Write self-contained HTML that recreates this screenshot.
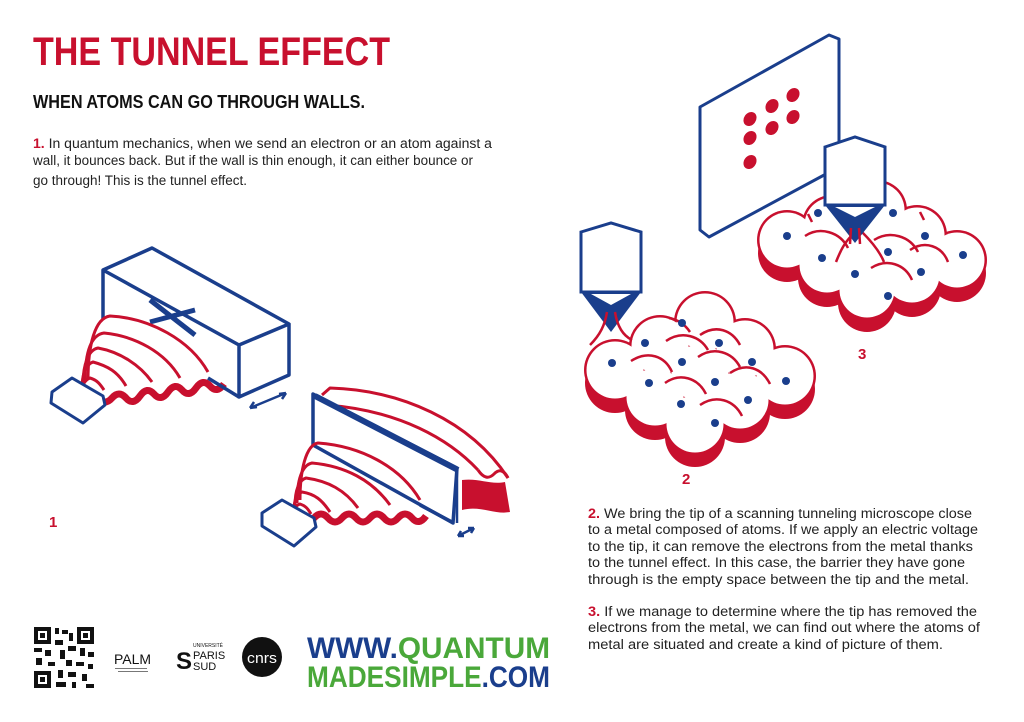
<!DOCTYPE html>
<html><head><meta charset="utf-8"><style>
html,body{margin:0;padding:0;background:#fff;}
svg{display:block;}
text{font-family:"Liberation Sans",sans-serif;}
</style></head><body>
<svg width="1024" height="722" viewBox="0 0 1024 722" xmlns="http://www.w3.org/2000/svg">
<rect width="1024" height="722" fill="#fff"/>
<text x="33" y="65" font-size="40" font-weight="bold" fill="#c8102e" textLength="357" lengthAdjust="spacingAndGlyphs">THE TUNNEL EFFECT</text>
<text x="33" y="108" font-size="18" font-weight="bold" fill="#111" textLength="332" lengthAdjust="spacingAndGlyphs">WHEN ATOMS CAN GO THROUGH WALLS.</text>
<g font-size="13.5" fill="#222">
<text x="33" y="148" textLength="459" lengthAdjust="spacingAndGlyphs"><tspan fill="#c8102e" font-weight="bold">1.</tspan> In quantum mechanics, when we send an electron or an atom against a</text>
<text x="33" y="165" textLength="440" lengthAdjust="spacingAndGlyphs">wall, it bounces back. But if the wall is thin enough, it can either bounce or</text>
<text x="33" y="185" textLength="214" lengthAdjust="spacingAndGlyphs">go through! This is the tunnel effect.</text>
</g>
<g font-size="13.5" fill="#222">
<text x="588" y="518" textLength="384" lengthAdjust="spacingAndGlyphs"><tspan fill="#c8102e" font-weight="bold">2.</tspan> We bring the tip of a scanning tunneling microscope close</text>
<text x="588" y="534" textLength="390" lengthAdjust="spacingAndGlyphs">to a metal composed of atoms. If we apply an electric voltage</text>
<text x="588" y="551" textLength="385" lengthAdjust="spacingAndGlyphs">to the tip, it can remove the electrons from the metal thanks</text>
<text x="588" y="567" textLength="377" lengthAdjust="spacingAndGlyphs">to the tunnel effect. In this case, the barrier they have gone</text>
<text x="588" y="584" textLength="381" lengthAdjust="spacingAndGlyphs">through is the empty space between the tip and the metal.</text>
<text x="588" y="616" textLength="389" lengthAdjust="spacingAndGlyphs"><tspan fill="#c8102e" font-weight="bold">3.</tspan> If we manage to determine where the tip has removed the</text>
<text x="588" y="632" textLength="392" lengthAdjust="spacingAndGlyphs">electrons from the metal, we can find out where the atoms of</text>
<text x="588" y="649" textLength="355" lengthAdjust="spacingAndGlyphs">metal are situated and create a kind of picture of them.</text>
</g>
<g font-size="15" font-weight="bold" fill="#c8102e">
<text x="49" y="527">1</text><text x="682" y="484">2</text><text x="858" y="359">3</text>
</g>

<g fill="none" stroke-linejoin="round">
<path d="M103,319 L103,270 L152,248 L289,324 L239,345 L103,270 M239,345 L239,397 L289,375 L289,324" stroke="#1a3e8c" stroke-width="3.5" fill="#fff"/>
<path d="M150,300 L195,335 M150,322 L195,310" stroke="#1a3e8c" stroke-width="5"/>
<g stroke="#c8102e" stroke-width="3">
<path d="M88,380 C88,345 95,318 110,316 C150,318 190,340 208,372"/>
<path d="M85,382 C85,355 90,335 104,333 C135,336 165,352 180,378"/>
<path d="M83,385 C83,365 88,350 98,348 C120,352 140,365 152,382"/>
<path d="M82,388 C82,375 86,364 93,362 C108,366 118,372 126,386"/>
<path d="M82,392 C82,385 85,380 90,378 C97,380 100,384 104,390"/>
</g>
<path d="M98,398 q7,8 14,0 t14,0 t14,-2 t14,-2 t14,-2 t14,-2 t14,-2 t14,-2 t14,-2" stroke="#c8102e" stroke-width="7"/>
<path d="M208,378 L239,397" stroke="#1a3e8c" stroke-width="3.5"/>
<path d="M52,392 L72,378 L103,396 L105,405 L83,423 L51,403 Z" stroke="#1a3e8c" stroke-width="3" fill="#fff"/>
<path d="M250,408 L286,393 M250,408 l7,-1 m-7,1 l4,-6 M286,393 l-7,1 m7,-1 l-4,6" stroke="#1a3e8c" stroke-width="2.5"/>
</g>

<g fill="none" stroke-linejoin="round">
<g stroke="#c8102e" stroke-width="3">
<path d="M322,395 L330,388 C400,390 470,420 508,478"/>
<path d="M325,405 C400,410 450,440 478,470"/>
<path d="M478,470 q8,12 16,4 q8,-8 14,4"/>
</g>
<path d="M462,480 C480,478 490,485 505,482 L510,512 C495,515 480,505 462,510 Z" fill="#c8102e"/>
<path d="M313,445 L313,394 L457,468 L453,523 L313,445" stroke="#1a3e8c" stroke-width="3.5" fill="#fff"/>
<path d="M315,396 L458,470" stroke="#1a3e8c" stroke-width="6"/>
<path d="M457,468 L457,523" stroke="#1a3e8c" stroke-width="2.5"/>
<g stroke="#c8102e" stroke-width="3">
<path d="M300,500 C300,470 306,445 318,443 C360,446 400,466 420,500"/>
<path d="M297,503 C297,480 302,465 312,463 C345,466 372,480 390,505"/>
<path d="M295,506 C295,490 299,480 306,478 C328,481 345,490 358,508"/>
<path d="M294,510 C294,500 297,494 302,492 C315,494 322,500 330,512"/>
<path d="M294,514 C294,508 296,505 300,504 C306,506 308,509 311,514"/>
</g>
<path d="M300,518 q7,8 14,0 t14,0 t14,0 t14,0 t14,0 t14,0 t14,0 t14,0 t14,-2" stroke="#c8102e" stroke-width="7"/>
<path d="M420,505 L452,522" stroke="#1a3e8c" stroke-width="3.5"/>
<path d="M262,513 L282,500 L314,518 L316,527 L294,546 L262,526 Z" stroke="#1a3e8c" stroke-width="3" fill="#fff"/>
<path d="M458,536 L474,528 M458,536 l6,0 m-6,0 l3,-5 M474,528 l-6,0 m6,0 l-3,5" stroke="#1a3e8c" stroke-width="2.5"/>
</g>

<!-- Screen -->
<path d="M700,107 L829,35 L839,39 L839,167 L709,237 L700,230 Z" fill="#fff" stroke="#1a3e8c" stroke-width="3" stroke-linejoin="round"/>
<g fill="#c8102e">
<ellipse cx="750" cy="119" rx="6" ry="7.5" transform="rotate(35 750 119)"/>
<ellipse cx="772" cy="106" rx="6" ry="7.5" transform="rotate(35 772 106)"/>
<ellipse cx="793" cy="95" rx="6" ry="7.5" transform="rotate(35 793 95)"/>
<ellipse cx="793" cy="117" rx="6" ry="7.5" transform="rotate(35 793 117)"/>
<ellipse cx="772" cy="128" rx="6" ry="7.5" transform="rotate(35 772 128)"/>
<ellipse cx="750" cy="138" rx="6" ry="7.5" transform="rotate(35 750 138)"/>
<ellipse cx="750" cy="162" rx="6" ry="7.5" transform="rotate(35 750 162)"/>
</g>

<g>
<g fill="#c8102e" transform="translate(0,13)">
<circle cx="787" cy="240" r="29"/><circle cx="832" cy="225" r="29"/><circle cx="877" cy="210" r="29"/>
<circle cx="827" cy="265" r="29"/><circle cx="872" cy="250" r="29"/><circle cx="917" cy="235" r="29"/>
<circle cx="867" cy="290" r="29"/><circle cx="912" cy="275" r="29"/><circle cx="957" cy="260" r="29"/>
</g>
<g fill="#c8102e">
<circle cx="787" cy="240" r="30"/><circle cx="832" cy="225" r="30"/><circle cx="877" cy="210" r="30"/>
<circle cx="827" cy="265" r="30"/><circle cx="872" cy="250" r="30"/><circle cx="917" cy="235" r="30"/>
<circle cx="867" cy="290" r="30"/><circle cx="912" cy="275" r="30"/><circle cx="957" cy="260" r="30"/>
</g>
<g fill="#fff">
<circle cx="787" cy="240" r="27.5"/><circle cx="832" cy="225" r="27.5"/><circle cx="877" cy="210" r="27.5"/>
<circle cx="827" cy="265" r="27.5"/><circle cx="872" cy="250" r="27.5"/><circle cx="917" cy="235" r="27.5"/>
<circle cx="867" cy="290" r="27.5"/><circle cx="912" cy="275" r="27.5"/><circle cx="957" cy="260" r="27.5"/>
</g>
<g fill="none" stroke="#c8102e" stroke-width="2.5">
<path d="M805,236 C820,226 840,232 848,248"/><path d="M874,240 C890,230 910,236 918,252"/>
<path d="M910,250 C925,240 942,246 948,262"/><path d="M871,268 C887,258 905,264 912,280"/>
<path d="M808,214 L812,222"/><path d="M920,212 L924,220"/>
<path d="M856,232 C845,240 840,252 836,262"/><path d="M862,232 C872,242 880,252 884,262"/>
</g>
<g fill="#1a3e8c">
<circle cx="787" cy="236" r="4"/><circle cx="818" cy="213" r="4"/><circle cx="893" cy="213" r="4"/>
<circle cx="822" cy="258" r="4"/><circle cx="888" cy="252" r="4"/><circle cx="925" cy="236" r="4"/>
<circle cx="855" cy="274" r="4"/><circle cx="921" cy="272" r="4"/><circle cx="963" cy="255" r="4"/>
<circle cx="888" cy="296" r="4"/>
</g>
</g>
<path d="M825,147 L855,137 L885,147 L885,205 L825,205 Z" fill="#fff" stroke="#1a3e8c" stroke-width="3"/>
<path d="M825,205 L885,205 L855,243 Z" fill="#1a3e8c"/>
<path d="M835,207 L855,217 L875,207 Z" fill="#fff"/>
<path d="M851,228 L850,244 M859,228 L860,244" stroke="#c8102e" stroke-width="2.5"/>

<g>
<g fill="#c8102e" transform="translate(0,13)">
<circle cx="615" cy="370" r="30"/><circle cx="660" cy="346" r="30"/><circle cx="705" cy="322" r="30"/>
<circle cx="655" cy="397" r="30"/><circle cx="700" cy="373" r="30"/><circle cx="745" cy="349" r="30"/>
<circle cx="695" cy="424" r="30"/><circle cx="740" cy="400" r="30"/><circle cx="785" cy="376" r="30"/>
</g>
<g fill="#c8102e">
<circle cx="615" cy="370" r="31"/><circle cx="660" cy="346" r="31"/><circle cx="705" cy="322" r="31"/>
<circle cx="655" cy="397" r="31"/><circle cx="700" cy="373" r="31"/><circle cx="745" cy="349" r="31"/>
<circle cx="695" cy="424" r="31"/><circle cx="740" cy="400" r="31"/><circle cx="785" cy="376" r="31"/>
</g>
<g fill="#fff">
<circle cx="615" cy="370" r="28.5"/><circle cx="660" cy="346" r="28.5"/><circle cx="705" cy="322" r="28.5"/>
<circle cx="655" cy="397" r="28.5"/><circle cx="700" cy="373" r="28.5"/><circle cx="745" cy="349" r="28.5"/>
<circle cx="695" cy="424" r="28.5"/><circle cx="740" cy="400" r="28.5"/><circle cx="785" cy="376" r="28.5"/>
</g>
<g fill="none" stroke="#c8102e" stroke-width="2.5">
<path d="M631,361 C648,350 665,356 672,372"/><path d="M666,341 C682,330 700,336 708,350"/>
<path d="M700,335 C716,324 732,330 740,345"/><path d="M665,383 C680,372 698,378 706,394"/>
<path d="M698,357 C714,346 732,352 740,367"/><path d="M730,373 C746,362 762,368 770,384"/>
<path d="M700,405 C716,394 734,400 742,416"/>
<path d="M669,318 C680,320 686,326 690,332"/>
</g>
<g fill="#1a3e8c">
<circle cx="612" cy="363" r="4"/><circle cx="645" cy="343" r="4"/><circle cx="682" cy="323" r="4"/>
<circle cx="649" cy="383" r="4"/><circle cx="682" cy="362" r="4"/><circle cx="719" cy="343" r="4"/>
<circle cx="681" cy="404" r="4"/><circle cx="715" cy="382" r="4"/><circle cx="752" cy="362" r="4"/>
<circle cx="748" cy="400" r="4"/><circle cx="786" cy="381" r="4"/><circle cx="715" cy="423" r="4"/>
</g>
</g>
<path d="M581,232 L611,223 L641,232 L641,292 L581,292 Z" fill="#fff" stroke="#1a3e8c" stroke-width="3"/>
<path d="M581,292 L641,292 L611,332 Z" fill="#1a3e8c"/>
<path d="M591,294 L611,305 L631,294 Z" fill="#fff"/>
<path d="M607,312 C605,325 600,335 590,345 M615,312 C617,325 622,335 632,340" fill="none" stroke="#c8102e" stroke-width="2.5"/>

<g fill="#111">
<rect x="34" y="627" width="60" height="61" fill="#fff"/>
<rect x="34" y="627" width="17" height="17"/><rect x="38" y="631" width="9" height="9" fill="#fff"/><rect x="40" y="633" width="5" height="5"/>
<rect x="77" y="627" width="17" height="17"/><rect x="81" y="631" width="9" height="9" fill="#fff"/><rect x="83" y="633" width="5" height="5"/>
<rect x="34" y="671" width="17" height="17"/><rect x="38" y="675" width="9" height="9" fill="#fff"/><rect x="40" y="677" width="5" height="5"/>
<rect x="55" y="628" width="4" height="6"/><rect x="62" y="630" width="6" height="4"/><rect x="69" y="633" width="4" height="8"/>
<rect x="34" y="648" width="8" height="4"/><rect x="45" y="650" width="6" height="6"/><rect x="55" y="640" width="8" height="5"/>
<rect x="60" y="650" width="5" height="9"/><rect x="68" y="646" width="8" height="5"/><rect x="80" y="648" width="5" height="8"/>
<rect x="88" y="652" width="6" height="5"/><rect x="36" y="658" width="6" height="7"/><rect x="48" y="662" width="7" height="4"/>
<rect x="66" y="660" width="6" height="6"/><rect x="76" y="662" width="8" height="4"/><rect x="58" y="670" width="5" height="8"/>
<rect x="68" y="672" width="8" height="5"/><rect x="82" y="674" width="5" height="7"/><rect x="56" y="682" width="10" height="5"/>
<rect x="72" y="682" width="4" height="6"/><rect x="86" y="684" width="8" height="4"/><rect x="88" y="664" width="5" height="5"/>
</g>
<text x="114" y="664" font-size="14" fill="#111" textLength="37" lengthAdjust="spacingAndGlyphs">PALM</text>
<rect x="115" y="668" width="32" height="1" fill="#777"/><rect x="118" y="671" width="30" height="1" fill="#777"/>
<text x="176" y="669" font-size="24" font-weight="bold" fill="#111">S</text>
<text x="193" y="647" font-size="5" fill="#111">UNIVERSITÉ</text>
<text x="193" y="659" font-size="11" fill="#111">PARIS</text>
<text x="193" y="670" font-size="11" fill="#111">SUD</text>
<circle cx="262" cy="657" r="20" fill="#111"/>
<text x="262" y="663" font-size="15" fill="#fff" text-anchor="middle" textLength="30" lengthAdjust="spacingAndGlyphs">cnrs</text>
<text x="307" y="658" font-size="30" font-weight="bold" textLength="243" lengthAdjust="spacingAndGlyphs"><tspan fill="#1a3e8c">WWW.</tspan><tspan fill="#4aa83a">QUANTUM</tspan></text>
<text x="307" y="687" font-size="30" font-weight="bold" textLength="243" lengthAdjust="spacingAndGlyphs"><tspan fill="#4aa83a">MADESIMPLE</tspan><tspan fill="#1a3e8c">.COM</tspan></text>
</svg>
</body></html>
